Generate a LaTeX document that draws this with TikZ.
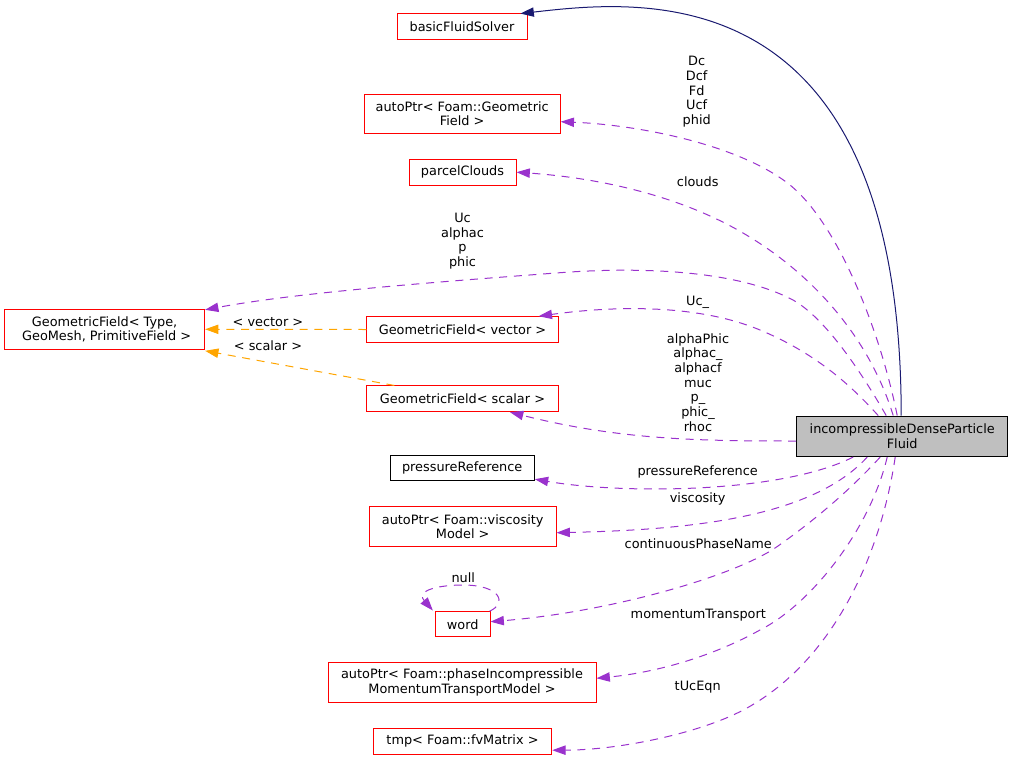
\documentclass[tikz,border=0pt]{standalone}
\usepackage{fontspec}
\setmainfont{DejaVu Sans}
\usetikzlibrary{arrows.meta,calc}
\definecolor{usagecol}{HTML}{9A32CD}
\definecolor{tmplcol}{HTML}{FFA500}
\definecolor{inheritcol}{HTML}{191970}
\definecolor{focusgrey}{HTML}{BFBFBF}
\definecolor{classred}{HTML}{FF0000}

\begin{document}
\begin{tikzpicture}[x=0.75pt,y=-0.75pt,
  every node/.style={font=\fontsize{9.65}{11}\selectfont, inner sep=0pt, align=center},
  cls/.style={draw=classred, fill=white, line width=0.75pt},
  docbox/.style={draw=black, fill=white, line width=0.75pt},
  focusbox/.style={draw=black, fill=focusgrey, line width=0.75pt},
  headtip/.style={-{Triangle[length=10pt,width=7pt]}},
  usage line/.style={headtip, draw=usagecol, line width=0.75pt, dash pattern=on 6pt off 5pt},
  inst line/.style={headtip, draw=tmplcol, line width=0.75pt, dash pattern=on 6pt off 5pt},
  inherit line/.style={headtip, draw=inheritcol, line width=0.75pt}]
\useasboundingbox (0,0) rectangle (1013,760);

% documented classes
\node[docbox, minimum width=108.2pt, minimum height=19pt] (pressureRef) at (462.2,468) {pressureReference};
\node[focusbox, minimum width=158.25pt, minimum height=30.4pt] (central) at (902.2,436.3) {incompressibleDenseParticle\\Fluid};

% undocumented classes
\node[cls, minimum width=97.5pt, minimum height=19.7pt] (solverBase) at (462,26.5) {basicFluidSolver};
\node[cls, minimum width=147pt, minimum height=29.5pt] (autoGeo) at (462.2,113.7) {autoPtr< Foam::Geometric\\Field >};
\node[cls, minimum width=80.25pt, minimum height=19.3pt] (parcel) at (462.5,172.2) {parcelClouds};
\node[cls, minimum width=150pt, minimum height=30pt] (Type) at (104.6,329.3) {GeometricField< Type,\\\ GeoMesh, PrimitiveField >};
\node[cls, minimum width=143.5pt, minimum height=19.2pt] (vector) at (462.5,329.5) {GeometricField< vector >};
\node[cls, minimum width=143.5pt, minimum height=19.3pt] (scalar) at (462.5,398.8) {GeometricField< scalar >};
\node[cls, minimum width=140pt, minimum height=30pt] (viscosity) at (462.7,526.7) {autoPtr< Foam::viscosity\\Model >};
\node[cls, minimum width=41pt, minimum height=18.75pt] (word) at (462.7,624.2) {word};
\node[cls, minimum width=201pt, minimum height=30pt] (phase) at (462,682.7) {autoPtr< Foam::phaseIncompressible\\MomentumTransportModel >};
\node[cls, minimum width=133.8pt, minimum height=19.3pt] (tmp) at (462.5,741.2) {tmp< Foam::fvMatrix >};

% inheritance
\draw[inherit line] ($(central.north)+(-1,0)$) .. controls (901,-30) and (640,0) .. ($(solverBase.north east)+(-7,0.7)$);

% template instances
\draw[inst line] (vector.west) -- (Type.east);
\draw[inst line] ($(scalar.north west)+(28,0)$) -- ($(Type.south east)+(0,1)$);
\node (lblVec) at (268,321.7) {< vector >};
\node (lblSca) at (268,346) {< scalar >};

% usage relations
\draw[usage line] ($(central.north)+(-5,0)$) .. controls (880,330) and (838,224) .. (790,185) .. controls (740,145) and (640,125) .. ($(autoGeo.east)+(0,8)$);
\draw[usage line] ($(central.north)+(-9,0)$) .. controls (870,340) and (815,275) .. (743,233) .. controls (680,196) and (600,178) .. (parcel.east);
\draw[usage line] ($(central.north)+(-16,0)$) .. controls (860,370) and (825,318) .. (793,300) .. controls (740,272) and (650,266) .. (560,272.7) .. controls (450,281) and (300,292) .. ($(Type.north east)+(0,1)$);
\draw[usage line] ($(central.north)+(-24,0)$) .. controls (855,390) and (820,355) .. (760,330) .. controls (700,305) and (620,305) .. ($(vector.north east)+(-20,0)$);
\draw[usage line] ($(central.west)+(0,4.7)$) .. controls (700,441) and (620,440) .. ($(scalar.south)+(47.5,0)$);
\draw[usage line] ($(central.south)+(-49,0)$) .. controls (780,494) and (620,494) .. ($(pressureRef.south east)+(0,-2)$);
\draw[usage line] ($(central.south)+(-35,0)$) .. controls (810,520) and (680,530) .. ($(viscosity.east)+(0,6)$);
\draw[usage line] ($(central.south)+(-22,0)$) .. controls (850,490) and (815,520) .. (777,546.7) .. controls (735,576) and (610,612) .. ($(word.east)+(0,-2.5)$);
\draw[usage line] ($(central.south)+(-15,0)$) .. controls (870,530) and (810,605) .. (760,630) .. controls (715,655) and (660,672) .. ($(phase.east)+(0,-4.4)$);
\draw[usage line] ($(central.south)+(-7,0)$) .. controls (880,560) and (830,664) .. (743.3,710) .. controls (700,733) and (620,750) .. ($(tmp.east)+(0,9)$);
\draw[usage line] ($(word.north east)+(-1,0)$) .. controls (508,603) and (500,585) .. (463,585) .. controls (440,585) and (415,590) .. ($(word.north west)+(-2,-0.7)$);

% relation labels
\node (lblGeo) at (696.7,91.8) {Dc\\Dcf\\Fd\\Ucf\\phid};
\node (lblClouds) at (697.7,181.7) {clouds};
\node (lblType) at (462.5,241.3) {Uc\\alphac\\p\\phic};
\node (lblUc) at (697.7,302.7) {Uc\_};
\node (lblSc) at (698,382.5) {alphaPhic\\alphac\_\\alphacf\\muc\\p\_\\phic\_\\rhoc};
\node (lblPR) at (697.7,471.7) {pressureReference};
\node (lblVis) at (697.7,499.3) {viscosity};
\node (lblCPN) at (698.3,543.3) {continuousPhaseName};
\node (lblNull) at (463.3,577.7) {null};
\node (lblMom) at (698.3,615) {momentumTransport};
\node (lblTmp) at (697.7,687.3) {tUcEqn};
\end{tikzpicture}
\end{document}
